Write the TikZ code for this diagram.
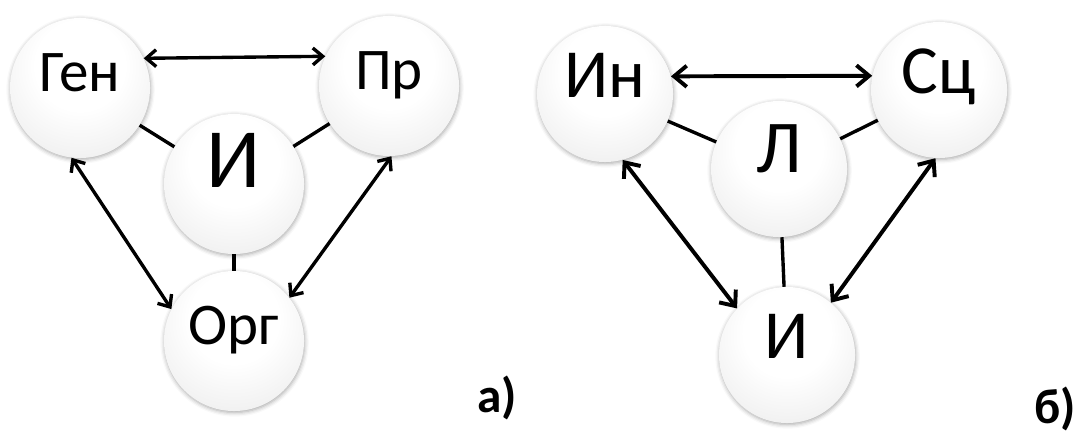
\documentclass[tikz,border=0pt]{standalone}
\usepackage{fontspec}
\setmainfont{Carlito}
\usetikzlibrary{arrows.meta,shadows.blur}

% pearly sphere look for the circles
\pgfdeclareradialshading{pearl}{\pgfpoint{0bp}{10bp}}{%
  color(0bp)=(white); color(16bp)=(white); color(30bp)=(gray!10);
  color(42bp)=(gray!24); color(52bp)=(gray!38); color(62bp)=(gray!50);
  color(80bp)=(gray!50)}

\begin{document}
\begin{tikzpicture}[x=0.025cm, y=-0.025cm,
    ball/.style={circle, minimum size=3.5cm, inner sep=0pt, shading=pearl,
      text height=0.72em, text depth=0.24em,
      blur shadow={shadow xshift=0.4pt, shadow yshift=-1pt,
        shadow blur radius=3pt, shadow opacity=35}},
    link/.style={line width=2.4pt},
    both/.style={line width=2.4pt,
      {Straight Barb[length=7pt,width=12pt]}-{Straight Barb[length=7pt,width=12pt]}},
    bigboth/.style={line width=2.8pt,
      {Straight Barb[length=9pt,width=15pt]}-{Straight Barb[length=9pt,width=15pt]}}]
        \useasboundingbox (0,0) rectangle (1077,436);

        % a)
        \node[ball] (A) at (80,88) {\fontsize{42}{42}\selectfont Ген};
        \node[ball] (B) at (389,86) {\fontsize{42}{42}\selectfont Пр};
        \node[ball] (C) at (234,184) {\fontsize{60}{60}\selectfont И};
        \node[ball] (D) at (234,341) {\fontsize{42}{42}\selectfont Орг};
        \draw[link] (A) -- (C);
        \draw[link] (B) -- (C);
        \draw[link] (C) -- (D);
        \draw[both] (A.25) -- (B.155);
        \draw[both] (A.263) -- (D.153);
        \draw[both] (B.272) -- (D.38);
        \node at (497,398) {\fontsize{35}{35}\selectfont\bfseries а)};

        % б)
        \node[ball, minimum size=3.4cm] (E) at (605,94) {\fontsize{49}{49}\selectfont Ин};
        \node[ball, minimum size=3.4cm] (F) at (939,90) {\fontsize{49}{49}\selectfont Сц};
        \node[ball, minimum size=3.4cm] (G) at (779,169) {\fontsize{53}{53}\selectfont Л};
        \node[ball, minimum size=3.4cm] (H) at (787,355) {\fontsize{49}{49}\selectfont И};
        \draw[link] (E) -- (G);
        \draw[link] (F) -- (G);
        \draw[link] (G) -- (H);
        \draw[bigboth] (E.15) -- (F.168);
        \draw[bigboth] (E.285) -- (H.137);
        \draw[bigboth] (F.267) -- (H.50);
        \node at (1055,409) {\fontsize{35}{35}\selectfont\bfseries б)};
    \end{tikzpicture}
\end{document}
